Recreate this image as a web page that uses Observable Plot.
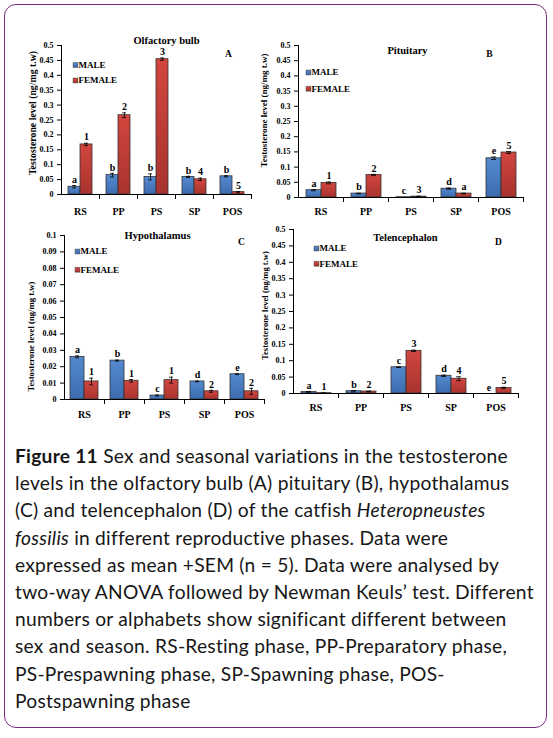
<!DOCTYPE html>
<html>
<head>
<meta charset="utf-8">
<script src="https://cdn.jsdelivr.net/npm/d3@7"></script>
<script src="https://cdn.jsdelivr.net/npm/@observablehq/plot@0.6"></script>
<style>
  body { margin: 0; background: #fff; }
  #page { position: relative; width: 553px; height: 738px; overflow: hidden; background: #fff; }
  #border { position: absolute; left: 4px; top: 4px; width: 541px; height: 722px; border: 1.5px solid #7a2d7e; border-radius: 12px; }
  .panel { position: absolute; }
  .panel svg { overflow: visible; }
  #caption { position: absolute; left: 15px; top: 442px; font-family: Lato, "Open Sans", sans-serif; font-size: 19.2px; letter-spacing: 0.25px; line-height: 27.2px; color: #161616; white-space: nowrap; }
</style>
</head>
<body>
<svg width="0" height="0" style="position:absolute">
  <defs>
    <linearGradient id="gMale" x1="0" y1="0" x2="0" y2="1">
      <stop offset="0" stop-color="#5589cf"/>
      <stop offset="1" stop-color="#3c6cae"/>
    </linearGradient>
    <linearGradient id="gFemale" x1="0" y1="0" x2="0" y2="1">
      <stop offset="0" stop-color="#d2463f"/>
      <stop offset="1" stop-color="#a8332e"/>
    </linearGradient>
  </defs>
</svg>
<div id="page">
  <div id="border"></div>
  <div class="panel" id="pA"></div>
  <div class="panel" id="pB"></div>
  <div class="panel" id="pC"></div>
  <div class="panel" id="pD"></div>
  <div id="caption"><b>Figure 11</b> Sex and seasonal variations in the testosterone<br>levels in the olfactory bulb (A) pituitary (B), hypothalamus<br>(C) and telencephalon (D) of the catfish <i>Heteropneustes</i><br><i>fossilis</i> in different reproductive phases. Data were<br>expressed as mean +SEM (n = 5). Data were analysed by<br>two-way ANOVA followed by Newman Keuls’ test. Different<br>numbers or alphabets show significant different between<br>sex and season. RS-Resting phase, PP-Preparatory phase,<br>PS-Prespawning phase, SP-Spawning phase, POS-<br>Postspawning phase</div>
</div>
<script>
// ---------- data ----------
const phases = ["RS", "PP", "PS", "SP", "POS"];
const sexes = ["MALE", "FEMALE"];
const yLabel = "Testosterone level (ng/mg t.w)";
const ticks05 = [0, 0.05, 0.1, 0.15, 0.2, 0.25, 0.3, 0.35, 0.4, 0.45, 0.5];
const ticks01 = [0, 0.01, 0.02, 0.03, 0.04, 0.05, 0.06, 0.07, 0.08, 0.09, 0.1];

// A - Olfactory bulb
const olfMale = [0.026, 0.065, 0.059, 0.059, 0.061];
const olfMaleErr = [0.004, 0.006, 0.010, 0.002, 0.002];
const olfMaleLab = ["a", "b", "b", "b", "b"];
const olfFemale = [0.168, 0.266, 0.454, 0.051, 0.008];
const olfFemaleErr = [0.004, 0.008, 0.004, 0.004, 0.002];
const olfFemaleLab = ["1", "2", "3", "4", "5"];

// B - Pituitary
const pitMale = [0.024, 0.013, 0.001, 0.029, 0.129];
const pitMaleErr = [0.002, 0.001, 0, 0.002, 0.004];
const pitMaleLab = ["a", "b", "c", "d", "e"];
const pitFemale = [0.048, 0.074, 0.003, 0.013, 0.148];
const pitFemaleErr = [0.003, 0.002, 0.001, 0.001, 0.003];
const pitFemaleLab = ["1", "2", "3", "a", "5"];

// C - Hypothalamus
const hypMale = [0.026, 0.0237, 0.0024, 0.011, 0.0154];
const hypMaleErr = [0.0006, 0.0003, 0.0003, 0.0002, 0.0002];
const hypMaleLab = ["a", "b", "c", "d", "e"];
const hypFemale = [0.011, 0.0114, 0.0118, 0.005, 0.005];
const hypFemaleErr = [0.002, 0.0008, 0.0018, 0.0006, 0.0018];
const hypFemaleLab = ["1", "1", "1", "2", "2"];

// D - Telencephalon
const telMale = [0.005, 0.007, 0.080, 0.054, 0];
const telMaleErr = [0.001, 0.002, 0.001, 0.002, 0];
const telMaleLab = ["a", "b", "c", "d", "e"];
const telFemale = [0.001, 0.006, 0.130, 0.045, 0.017];
const telFemaleErr = [0.001, 0.001, 0.002, 0.006, 0.002];
const telFemaleLab = ["1", "2", "3", "4", "5"];

// ---------- layout (page coordinates) ----------
const panels = [
  { el: "pA", name: "Olfactory bulb", tag: "A", male: olfMale, maleErr: olfMaleErr, maleLab: olfMaleLab,
    female: olfFemale, femaleErr: olfFemaleErr, femaleLab: olfFemaleLab, yMax: 0.5, ticks: ticks05,
    L: { left: 4, top: 22, w: 268, h: 200, ml: 55, mr: 20, mt: 23, mb: 28, po: 0.48, cap: 4, fxPad: 13,
         title: [164, 40.5], tag: [226, 53], leg: [73, 64.5, 80], ylab: [30.5, 112.5, 9.8] } },
  { el: "pB", name: "Pituitary", tag: "B", male: pitMale, maleErr: pitMaleErr, maleLab: pitMaleLab,
    female: pitFemale, femaleErr: pitFemaleErr, femaleLab: pitFemaleLab, yMax: 0.5, ticks: ticks05,
    L: { left: 256, top: 22, w: 286, h: 202, ml: 41, mr: 19, mt: 23, mb: 27, po: 0.41, cap: 5, fxPad: 10,
         title: [406, 50], tag: [488, 53], leg: [307, 72, 88.3], ylab: [263, 110, 9] } },
  { el: "pC", name: "Hypothalamus", tag: "C", male: hypMale, maleErr: hypMaleErr, maleLab: hypMaleLab,
    female: hypFemale, femaleErr: hypFemaleErr, femaleLab: hypFemaleLab, yMax: 0.1, ticks: ticks01,
    L: { left: 4, top: 212, w: 280, h: 212, ml: 58, mr: 19, mt: 23, mb: 25, po: 0.35, cap: 5, fxPad: 11,
         title: [155, 235], tag: [239, 241], leg: [75, 251, 269.3], ylab: [28.5, 336, 8.7] } },
  { el: "pD", name: "Telencephalon", tag: "D", male: telMale, maleErr: telMaleErr, maleLab: telMaleLab,
    female: telFemale, femaleErr: telFemaleErr, femaleLab: telFemaleLab, yMax: 0.5, ticks: ticks05,
    L: { left: 256, top: 206, w: 286, h: 212, ml: 36, mr: 24, mt: 23, mb: 25, po: 0.41, cap: 5, fxPad: 10,
         title: [404, 237], tag: [497, 241], leg: [315, 248, 263.3], ylab: [263.5, 305, 8.6] } }
];

const fmt = d3.format("~g");
const serif = "'Liberation Serif', 'Times New Roman', serif";

for (const p of panels) {
  const L = p.L;
  const rows = phases.flatMap((ph, i) => [
    { phase: ph, sex: sexes[0], v: p.male[i], e: p.maleErr[i], lab: p.maleLab[i] },
    { phase: ph, sex: sexes[1], v: p.female[i], e: p.femaleErr[i], lab: p.femaleLab[i] }
  ]);
  const withErr = rows.filter(d => d.e > 0);
  const fx0 = L.left + L.ml, fy0 = L.top + L.mt;
  const plotH = L.h - L.mt - L.mb;
  const at = (x, y) => ({ facet: "super", frameAnchor: "top-left", dx: x - fx0, dy: y - fy0, lineAnchor: "middle" });

  const legendMarks = sexes.flatMap((s, i) => [
    Plot.dot([s], { ...at(L.leg[0], L.leg[1 + i]), symbol: "square", r: 2.7, fill: [s], stroke: "#333", strokeWidth: 0.5 }),
    Plot.text([s], { ...at(L.leg[0] + 3, L.leg[1 + i]), text: d => d, textAnchor: "start", fontSize: 9 })
  ]);

  const chart = Plot.plot({
    width: L.w, height: L.h,
    marginLeft: L.ml, marginRight: L.mr, marginTop: L.mt, marginBottom: L.mb,
    style: { fontFamily: serif, fontWeight: "bold", background: "transparent", overflow: "visible", color: "#000" },
    fx: { domain: phases, padding: 0, label: null },
    x: { domain: sexes, paddingInner: 0, paddingOuter: L.po, axis: null },
    y: { domain: [0, p.yMax] },
    color: { domain: sexes, range: ["url(#gMale)", "url(#gFemale)"] },
    marks: [
      Plot.axisY({ ticks: p.ticks, tickFormat: fmt, tickSize: 4, tickPadding: 4, fontSize: 8, label: null }),
      Plot.frame({ anchor: "left", facetAnchor: "left" }),
      Plot.barY(rows, { fx: "phase", x: "sex", y: "v", fill: "sex", stroke: "#333", strokeWidth: 0.8 }),
      Plot.ruleY([0]),
      Plot.frame({ anchor: "right", insetTop: plotH, insetBottom: -4 }),
      Plot.axisFx({ anchor: "bottom", tickSize: 0, tickPadding: L.fxPad, fontSize: 10, label: null }),
      Plot.ruleX(withErr, { fx: "phase", x: "sex", y1: d => Math.max(0, d.v - d.e), y2: d => d.v + d.e, strokeWidth: 0.8 }),
      Plot.tickY(withErr, { fx: "phase", x: "sex", y: d => d.v + d.e, insetLeft: L.cap, insetRight: L.cap, strokeWidth: 0.8 }),
      Plot.tickY(withErr, { fx: "phase", x: "sex", y: d => Math.max(0, d.v - d.e), insetLeft: L.cap, insetRight: L.cap, strokeWidth: 0.8 }),
      Plot.text(rows, { fx: "phase", x: "sex", y: d => d.v + d.e, text: "lab", dy: -6, fontSize: 10 }),
      Plot.text([p.name], { ...at(L.title[0], L.title[1]), text: d => d, textAnchor: "middle", fontSize: 10.5 }),
      Plot.text([p.tag], { ...at(L.tag[0], L.tag[1]), text: d => d, textAnchor: "middle", fontSize: 9.5 }),
      Plot.text([yLabel], { ...at(L.ylab[0], L.ylab[1]), text: d => d, textAnchor: "middle", rotate: -90, fontSize: L.ylab[2] }),
      ...legendMarks
    ]
  });
  const host = document.getElementById(p.el);
  host.style.left = L.left + "px";
  host.style.top = L.top + "px";
  host.appendChild(chart);
}
</script>
</body>
</html>
